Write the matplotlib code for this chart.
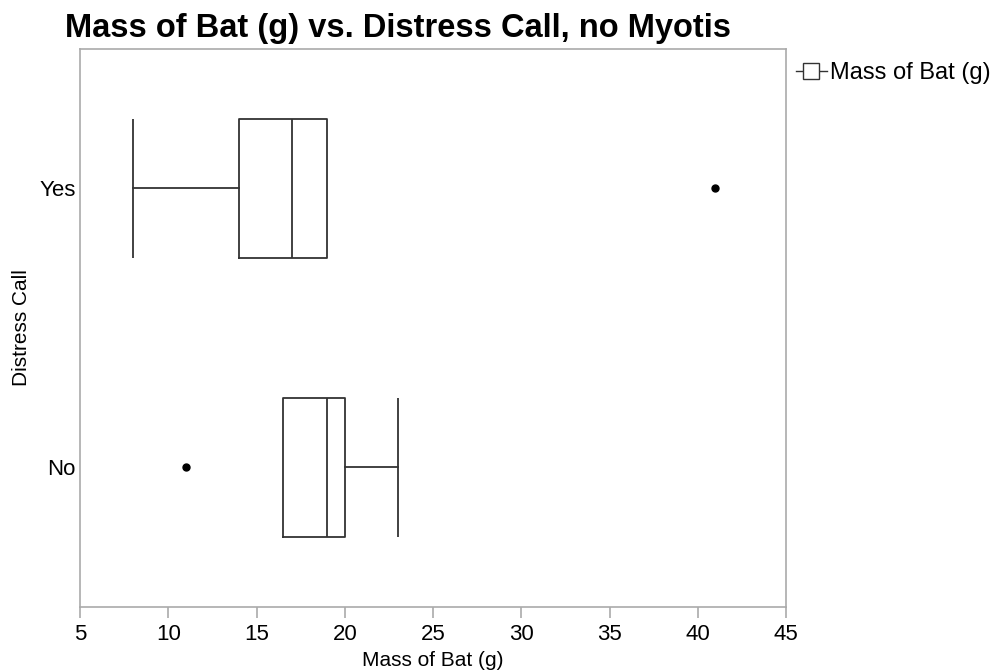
import matplotlib
matplotlib.use("Agg")
import matplotlib.pyplot as plt
from matplotlib.lines import Line2D

plt.rcParams['font.family'] = ['Liberation Sans', 'DejaVu Sans']

# box summaries for bat mass (g), by distress call
groups = ["No", "Yes"]
q1 = [16.5, 14]
med = [19, 17]
q3 = [20, 19]
whislo = [16.5, 8]
whishi = [23, 19]
fliers = [[11], [41]]

stats = []
for i, g in enumerate(groups):
    stats.append(dict(label=g, q1=q1[i], med=med[i], q3=q3[i],
                      whislo=whislo[i], whishi=whishi[i], fliers=fliers[i]))

fig = plt.figure(figsize=(10.05, 6.71), dpi=100)
ax = fig.add_axes([0.0796, 0.0954, 0.7025, 0.8316])

line_kw = dict(color='#333333', linewidth=1.3)
ax.bxp(stats, positions=[0, 1], vert=False, widths=0.5, showcaps=False,
       boxprops=line_kw, medianprops=line_kw, whiskerprops=line_kw,
       flierprops=dict(marker='o', markerfacecolor='black', markeredgecolor='black', markersize=5))

# end caps drawn as vertical lines the same height as the box
for i in range(len(groups)):
    if whislo[i] < q1[i]:
        ax.vlines(whislo[i], i - 0.25, i + 0.25, **line_kw)
    if whishi[i] > q3[i]:
        ax.vlines(whishi[i], i - 0.25, i + 0.25, **line_kw)

ax.set_xlim(5, 45)
ax.set_ylim(-0.5, 1.5)
ax.set_xticks(range(5, 50, 5))
ax.set_yticks([0, 1])
ax.set_yticklabels(groups)

for s in ax.spines.values():
    s.set_color('#aaaaaa')
    s.set_linewidth(1.2)
ax.tick_params(axis='x', colors='#aaaaaa', labelcolor='black', labelsize=16, length=8, width=1.2, pad=4)
ax.tick_params(axis='y', length=0, labelsize=16, pad=3, labelcolor='black')

ax.set_xlabel("Mass of Bat (g)", fontsize=15)
ax.set_ylabel("Distress Call", fontsize=15)
ax.xaxis.set_label_coords(0.5, -0.078)
ax.yaxis.set_label_coords(-0.069, 0.5)

fig.text(0.065, 0.958, "Mass of Bat (g) vs. Distress Call, no Myotis",
         fontsize=23.5, fontweight='bold', va='center', ha='left')

handle = Line2D([], [], color='#333333', linewidth=1.0, marker='s', markersize=12,
                markerfacecolor='white', markeredgecolor='#333333')
fig.legend([handle], ["Mass of Bat (g)"], loc='upper left', bbox_to_anchor=(0.792, 0.907),
           frameon=False, fontsize=17, handlelength=1.3, handletextpad=0.15,
           borderpad=0, borderaxespad=0)

fig.savefig("out.png", dpi=100)
